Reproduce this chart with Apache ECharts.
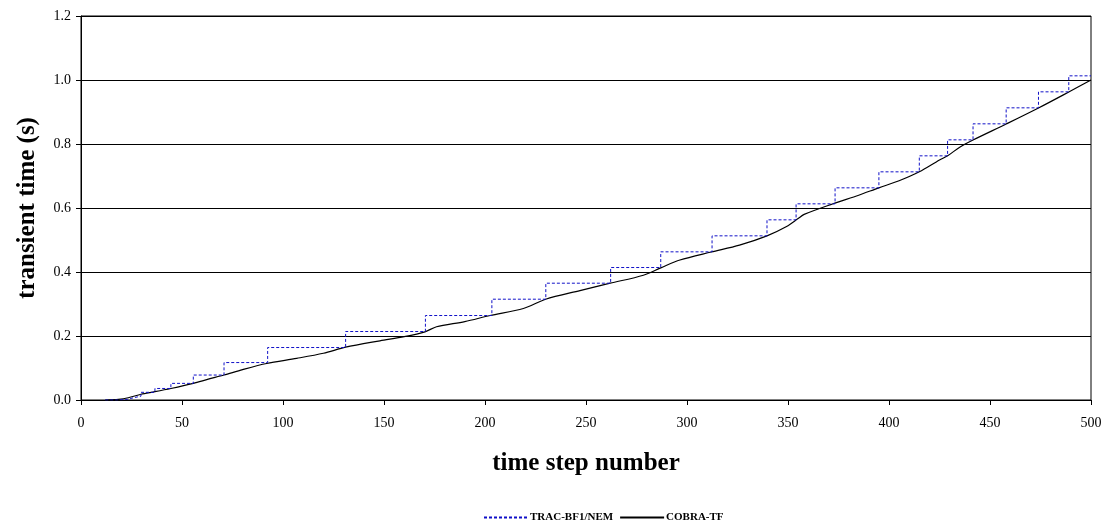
<!DOCTYPE html>
<html>
<head>
<meta charset="utf-8">
<script src="https://cdn.jsdelivr.net/npm/echarts@6/dist/echarts.min.js"></script>
<style>html,body{margin:0;padding:0;background:#fff;}#c{width:1110px;height:529px;}</style>
</head>
<body>
<div id="c"></div>
<script>
// TRAC-BF1/NEM: step jump positions (time step) and level held after the jump
const tracX = [12, 18, 23, 26, 29.7, 36.6, 44.5, 55.6, 70.8, 92.4, 131, 170.5, 203.4, 230.1, 262.2, 287, 312.4, 339.6, 354, 373.3, 395, 415, 429, 441.6, 458, 474, 489, 500];
const tracY = [0, 0.002, 0.007, 0.012, 0.024, 0.036, 0.052, 0.078, 0.117, 0.164, 0.214, 0.264, 0.315, 0.365, 0.414, 0.463, 0.513, 0.563, 0.613, 0.663, 0.713, 0.763, 0.813, 0.863, 0.913, 0.963, 1.013, 1.013];
// COBRA-TF curve
const cobraX = [12, 18.5, 23.4, 29.7, 36.6, 44.5, 55.6, 63, 70.8, 80, 91.9, 106.8, 120, 131, 148, 160, 170.3, 176, 190, 202.5, 219, 230, 247, 262, 278.4, 287, 296.5, 312, 326, 339.6, 349.3, 355, 358, 372, 385, 395, 405, 415, 425, 429, 435, 441.6, 458, 474, 489, 500];
const cobraY = [0, 0.002, 0.007, 0.018, 0.026, 0.036, 0.052, 0.065, 0.078, 0.095, 0.114, 0.13, 0.146, 0.165, 0.185, 0.198, 0.213, 0.229, 0.245, 0.264, 0.286, 0.315, 0.342, 0.365, 0.39, 0.413, 0.4375, 0.4625, 0.484, 0.513, 0.542, 0.567, 0.58, 0.6125, 0.64, 0.663, 0.685, 0.713, 0.75, 0.763, 0.79, 0.8125, 0.8625, 0.9125, 0.9625, 1.0];
const xTicks = {min: 0, max: 500, interval: 50};
const yTicks = {min: 0, max: 1.2, interval: 0.2};

const font = '"Liberation Serif", "Times New Roman", serif';
const chart = echarts.init(document.getElementById('c'));
chart.setOption({
  animation: false,
  backgroundColor: '#fff',
  grid: {left: 81, right: 19, top: 16, bottom: 129, show: true, borderColor: '#000', borderWidth: 1},
  legend: {
    top: 507, left: 478,
    itemWidth: 44, itemHeight: 10, itemGap: 6,
    itemStyle: {opacity: 0},
    textStyle: {fontFamily: font, fontWeight: 'bold', fontSize: 11, color: '#000', padding: [0, 0, 0, -3]},
    data: ['TRAC-BF1/NEM', 'COBRA-TF']
  },
  xAxis: {
    type: 'value', min: xTicks.min, max: xTicks.max, interval: xTicks.interval,
    name: 'time step number', nameLocation: 'middle', nameGap: 51,
    nameTextStyle: {fontFamily: font, fontWeight: 'bold', fontSize: 25, color: '#000'},
    axisLine: {show: true, lineStyle: {color: '#000'}},
    axisTick: {show: true, inside: false, length: 5, lineStyle: {color: '#000'}},
    axisLabel: {fontFamily: font, fontSize: 14, color: '#000', margin: 16},
    splitLine: {show: false}
  },
  yAxis: {
    type: 'value', min: yTicks.min, max: yTicks.max, interval: yTicks.interval,
    name: 'transient time (s)', nameLocation: 'middle', nameGap: 41,
    nameTextStyle: {fontFamily: font, fontWeight: 'bold', fontSize: 25, color: '#000'},
    axisLine: {show: true, lineStyle: {color: '#000'}},
    axisTick: {show: true, inside: false, length: 5, lineStyle: {color: '#000'}},
    axisLabel: {fontFamily: font, fontSize: 14, color: '#000', margin: 10, formatter: v => v.toFixed(1)},
    splitLine: {show: true, lineStyle: {color: '#000', width: 1}}
  },
  series: [
    {
      name: 'TRAC-BF1/NEM', type: 'line', step: 'end', symbol: 'none',
      data: tracX.map((x, i) => [x, tracY[i]]),
      lineStyle: {color: '#1010c8', width: 1, type: [3, 2]},
      itemStyle: {color: '#1010c8'}, z: 3
    },
    {
      name: 'COBRA-TF', type: 'line', symbol: 'none', smooth: 0.3,
      data: cobraX.map((x, i) => [x, cobraY[i]]),
      lineStyle: {color: '#000', width: 1.2},
      itemStyle: {color: '#000'}, z: 2
    }
  ]
});
</script>
</body>
</html>
